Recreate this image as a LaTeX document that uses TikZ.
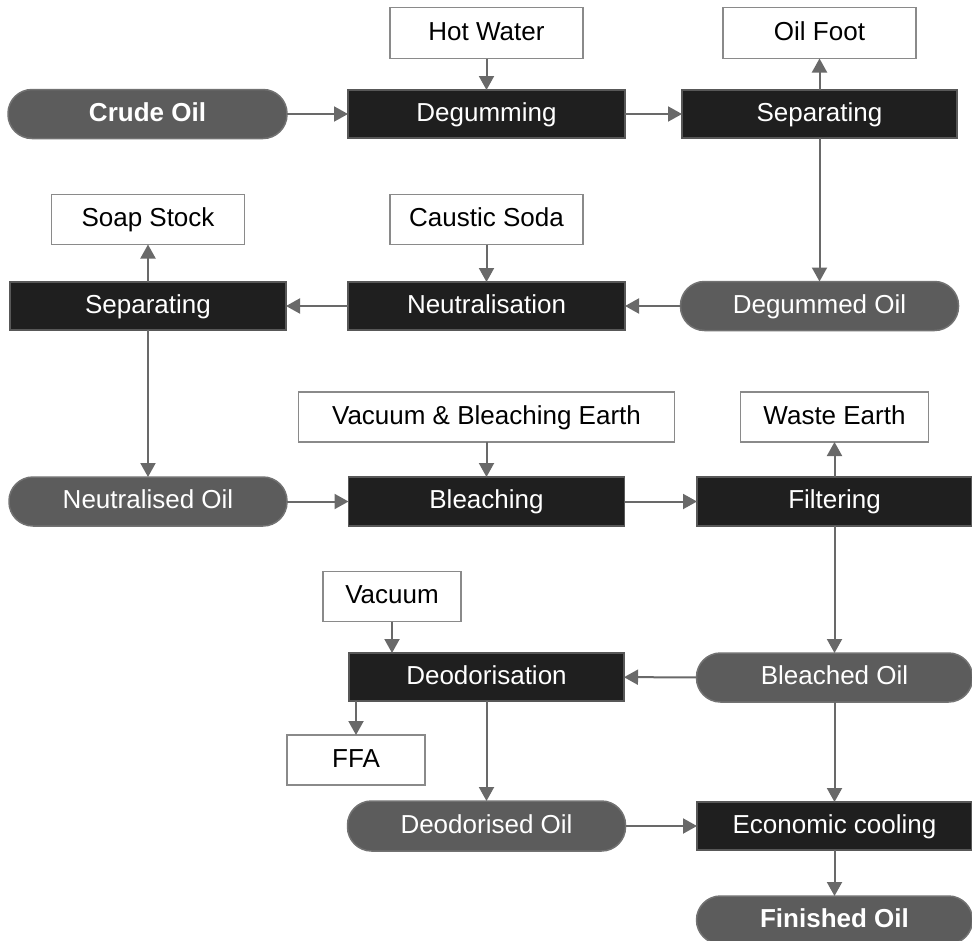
\documentclass[tikz,border=0pt]{standalone}
\usepackage{fontspec}
\setmainfont{Liberation Sans}
\usetikzlibrary{arrows.meta}
\definecolor{boxline}{HTML}{8A8A8A}
\definecolor{darkfill}{HTML}{1F1F1F}
\definecolor{darkline}{HTML}{585858}
\definecolor{pillfill}{HTML}{5C5C5C}
\definecolor{pillline}{HTML}{727272}
\definecolor{arrowcol}{HTML}{696969}
\tikzset{
  base/.style={inner sep=0pt, outer sep=0pt, line width=1.5pt, font=\fontsize{26}{30}\selectfont, align=center, text height=19pt, text depth=5pt},
  wbox/.style={base, draw=boxline, fill=white, text=black},
  bbox/.style={base, draw=darkline, fill=darkfill, text=white},
  pill/.style={base, draw=pillline, fill=pillfill, text=white, rounded corners=24pt},
  arr/.style={draw=arrowcol, line width=2pt, -{Triangle[length=14pt,width=15pt]}},
}
\begin{document}
\begin{tikzpicture}[x=1pt,y=-1pt]
\useasboundingbox (0,0) rectangle (972,940);
% row 1
\node[wbox, minimum width=193pt, minimum height=51pt] (hot) at (486.5,33) {Hot Water};
\node[wbox, minimum width=193pt, minimum height=51pt] (oilfoot) at (819.5,33) {Oil Foot};
\node[pill, minimum width=279pt, minimum height=49pt, font=\fontsize{26}{30}\selectfont\bfseries] (crude) at (147.5,114) {Crude Oil};
\node[bbox, minimum width=277pt, minimum height=48pt] (degum) at (486.5,114) {Degumming};
\node[bbox, minimum width=275pt, minimum height=48pt] (sep1) at (819.5,114) {Separating};
% row 2
\node[wbox, minimum width=193pt, minimum height=50pt] (soap) at (148,219.5) {Soap Stock};
\node[wbox, minimum width=193pt, minimum height=50pt] (caustic) at (486.5,219.5) {Caustic Soda};
\node[bbox, minimum width=276pt, minimum height=48pt] (sep2) at (148,306) {Separating};
\node[bbox, minimum width=277pt, minimum height=48pt] (neutral) at (486.5,306) {Neutralisation};
\node[pill, minimum width=278pt, minimum height=49pt] (degummed) at (819.5,306) {Degummed Oil};
% row 3
\node[wbox, minimum width=376pt, minimum height=50pt] (vbe) at (486.5,417) {Vacuum \& Bleaching Earth};
\node[wbox, minimum width=188pt, minimum height=50pt] (waste) at (834.5,417) {Waste Earth};
\node[pill, minimum width=278pt, minimum height=49pt] (neutralised) at (148,501.5) {Neutralised Oil};
\node[bbox, minimum width=276pt, minimum height=49pt] (bleach) at (486.5,501.5) {Bleaching};
\node[bbox, minimum width=275pt, minimum height=49pt] (filter) at (834.5,501.5) {Filtering};
% row 4
\node[wbox, minimum width=138pt, minimum height=50pt] (vacuum) at (392,596.5) {Vacuum};
\node[bbox, minimum width=275pt, minimum height=48pt] (deod) at (486.5,677) {Deodorisation};
\node[pill, minimum width=276pt, minimum height=49pt] (bleached) at (834.5,677.5) {Bleached Oil};
\node[wbox, minimum width=138pt, minimum height=50pt] (ffa) at (356,760) {FFA};
\node[pill, minimum width=278pt, minimum height=50pt] (deodorised) at (486.5,826) {Deodorised Oil};
\node[bbox, minimum width=275pt, minimum height=48pt] (econ) at (834.5,826) {Economic cooling};
\node[pill, minimum width=276pt, minimum height=48pt, font=\fontsize{26}{30}\selectfont\bfseries] (finished) at (834.5,920) {Finished Oil};
% connectors
\draw[arr] (crude) -- (degum);
\draw[arr] (hot) -- (degum);
\draw[arr] (degum) -- (sep1);
\draw[arr] (sep1) -- (oilfoot);
\draw[arr] (sep1) -- (degummed);
\draw[arr] (degummed) -- (neutral);
\draw[arr] (caustic) -- (neutral);
\draw[arr] (neutral) -- (sep2);
\draw[arr] (sep2) -- (soap);
\draw[arr] (sep2) -- (neutralised);
\draw[arr] (neutralised) -- (bleach);
\draw[arr] (vbe) -- (bleach);
\draw[arr] (bleach) -- (filter);
\draw[arr] (filter) -- (waste);
\draw[arr] (filter) -- (bleached);
\draw[arr] (bleached) -- (deod);
\draw[arr] (vacuum.south) -- (deod.north -| vacuum.south);
\draw[arr] (deod.south -| ffa.north) -- (ffa.north);
\draw[arr] (deod) -- (deodorised);
\draw[arr] (deodorised) -- (econ);
\draw[arr] (bleached) -- (econ);
\draw[arr] (econ) -- (finished);
\end{tikzpicture}
\end{document}
